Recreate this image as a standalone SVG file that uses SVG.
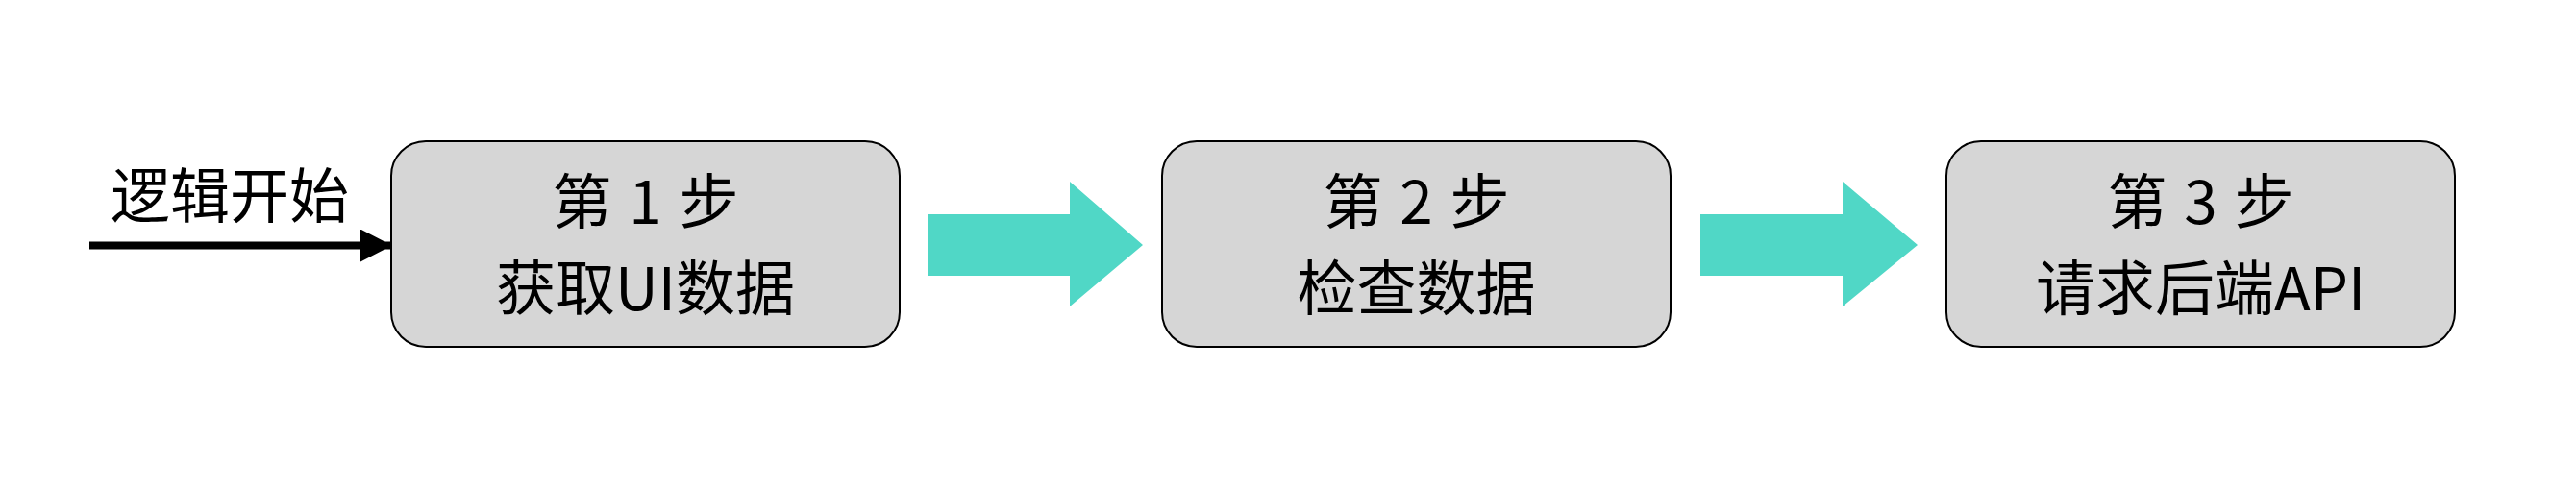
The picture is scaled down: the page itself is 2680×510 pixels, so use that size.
<svg xmlns="http://www.w3.org/2000/svg" width="2680" height="510" viewBox="0 0 2680 510">
<style>
.box{fill:#d6d6d6;stroke:#000;stroke-width:2}
.t{font-family:"Noto Sans CJK SC","Liberation Sans",sans-serif;font-size:62px;fill:#000;text-anchor:middle}
.ws{word-spacing:4px}
.flow{fill:#50d7c6}
</style>
<defs>
<marker id="ah" markerUnits="userSpaceOnUse" markerWidth="34" markerHeight="36" refX="33" refY="17" orient="auto">
<path d="M0,0 L33,17 L0,34 Z" fill="#000"/>
</marker>
</defs>
<rect width="2680" height="510" fill="#fff"/>
<g id="connectors">
<line x1="93" y1="255.5" x2="408" y2="255.5" stroke="#000" stroke-width="8" marker-end="url(#ah)"/>
<polygon class="flow" points="965,223 1113,223 1113,189 1189,255 1113,319 1113,287 965,287"/>
<polygon class="flow" points="1769,223 1917,223 1917,189 1995,255 1917,319 1917,287 1769,287"/>
</g>
<g id="start-label">
<text class="t" x="239" y="227">逻辑开始</text>
</g>
<g id="step1">
<rect class="box" x="407" y="147" width="529" height="214" rx="36" ry="36"/>
<text class="t ws" x="671.5" y="233">第 1 步</text>
<text class="t" x="671.5" y="323">获取UI数据</text>
</g>
<g id="step2">
<rect class="box" x="1209" y="147" width="529" height="214" rx="36" ry="36"/>
<text class="t ws" x="1473.5" y="233">第 2 步</text>
<text class="t" x="1473.5" y="323">检查数据</text>
</g>
<g id="step3">
<rect class="box" x="2025" y="147" width="529" height="214" rx="36" ry="36"/>
<text class="t ws" x="2289.5" y="233">第 3 步</text>
<text class="t" x="2289.5" y="323">请求后端API</text>
</g>
</svg>
